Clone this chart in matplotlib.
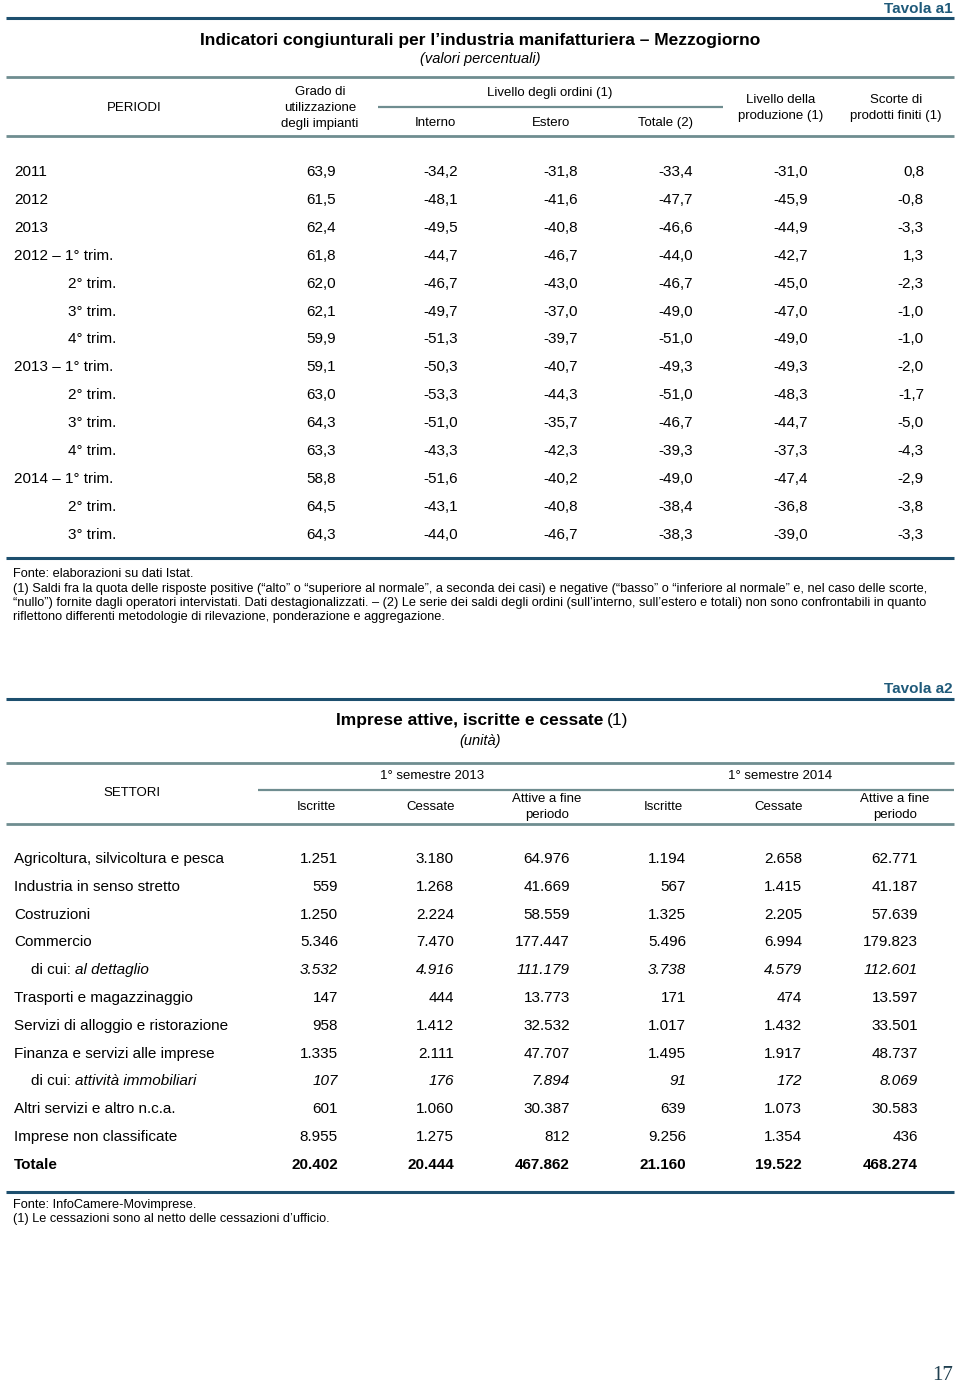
import matplotlib
matplotlib.use("Agg")
import matplotlib.pyplot as plt

plt.rcParams['font.family'] = ['Liberation Sans', 'DejaVu Sans']

# ---- Tavola a1 data ----
periodi = ["2011", "2012", "2013", "2012 \u2013 1\u00b0 trim.", "2\u00b0 trim.", "3\u00b0 trim.", "4\u00b0 trim.",
           "2013 \u2013 1\u00b0 trim.", "2\u00b0 trim.", "3\u00b0 trim.", "4\u00b0 trim.",
           "2014 \u2013 1\u00b0 trim.", "2\u00b0 trim.", "3\u00b0 trim."]
indent_a1 = [False, False, False, False, True, True, True, False, True, True, True, False, True, True]
grado = [63.9, 61.5, 62.4, 61.8, 62.0, 62.1, 59.9, 59.1, 63.0, 64.3, 63.3, 58.8, 64.5, 64.3]
interno = [-34.2, -48.1, -49.5, -44.7, -46.7, -49.7, -51.3, -50.3, -53.3, -51.0, -43.3, -51.6, -43.1, -44.0]
estero = [-31.8, -41.6, -40.8, -46.7, -43.0, -37.0, -39.7, -40.7, -44.3, -35.7, -42.3, -40.2, -40.8, -46.7]
totale = [-33.4, -47.7, -46.6, -44.0, -46.7, -49.0, -51.0, -49.3, -51.0, -46.7, -39.3, -49.0, -38.4, -38.3]
produzione = [-31.0, -45.9, -44.9, -42.7, -45.0, -47.0, -49.0, -49.3, -48.3, -44.7, -37.3, -47.4, -36.8, -39.0]
scorte = [0.8, -0.8, -3.3, 1.3, -2.3, -1.0, -1.0, -2.0, -1.7, -5.0, -4.3, -2.9, -3.8, -3.3]

# ---- Tavola a2 data ----
settori = ["Agricoltura, silvicoltura e pesca", "Industria in senso stretto", "Costruzioni", "Commercio",
           "al dettaglio", "Trasporti e magazzinaggio", "Servizi di alloggio e ristorazione",
           "Finanza e servizi alle imprese", "attivit\u00e0 immobiliari", "Altri servizi e altro n.c.a.",
           "Imprese non classificate", "Totale"]
row_kind = ["n", "n", "n", "n", "sub", "n", "n", "n", "sub", "n", "n", "tot"]
iscritte_13 = [1251, 559, 1250, 5346, 3532, 147, 958, 1335, 107, 601, 8955, 20402]
cessate_13 = [3180, 1268, 2224, 7470, 4916, 444, 1412, 2111, 176, 1060, 1275, 20444]
attive_13 = [64976, 41669, 58559, 177447, 111179, 13773, 32532, 47707, 7894, 30387, 812, 467862]
iscritte_14 = [1194, 567, 1325, 5496, 3738, 171, 1017, 1495, 91, 639, 9256, 21160]
cessate_14 = [2658, 1415, 2205, 6994, 4579, 474, 1432, 1917, 172, 1073, 1354, 19522]
attive_14 = [62771, 41187, 57639, 179823, 112601, 13597, 33501, 48737, 8069, 30583, 436, 468274]

DARK = "#1d4f6e"
GREY = "#6f8d90"
TAV = "#1f5a7a"


def fmt_pct(v):
    return f"{v:.1f}".replace(".", ",")


def fmt_int(v):
    return f"{v:,}".replace(",", ".")


fig = plt.figure(figsize=(9.6, 13.9), dpi=100)
ax = fig.add_axes([0, 0, 1, 1])
ax.set_xlim(0, 960)
ax.set_ylim(1390, 0)
ax.axis("off")


def hline(y, x0=6, x1=954, color=GREY, lw=2.0):
    ax.plot([x0, x1], [y, y], color=color, lw=lw, solid_capstyle="butt")


def txt(x, y, s, size=11, ha="left", **kw):
    return ax.text(x, y, s, fontsize=size, ha=ha, va="center", **kw)


# ================= Tavola a1 =================
txt(953, 9, "Tavola a1", size=11, ha="right", color=TAV, fontweight="bold")
hline(18, color=DARK, lw=2.2)
txt(480, 40, "Indicatori congiunturali per l\u2019industria manifatturiera \u2013 Mezzogiorno",
    size=12.5, ha="center", fontweight="bold")
txt(480, 59, "(valori percentuali)", size=10.5, ha="center", style="italic")
hline(77)

hs = 9.5
txt(134, 108, "PERIODI", size=hs, ha="center")
txt(320, 92, "Grado di", size=hs, ha="center")
txt(320, 108, "utilizzazione", size=hs, ha="center")
txt(320, 124, "degli impianti", size=hs, ha="center")
txt(550, 93, "Livello degli ordini (1)", size=hs, ha="center")
hline(107, 378, 723, lw=1.6)
txt(435, 123, "Interno", size=hs, ha="center")
txt(551, 123, "Estero", size=hs, ha="center")
txt(665, 123, "Totale (2)", size=hs, ha="center")
txt(781, 100, "Livello della", size=hs, ha="center")
txt(781, 116, "produzione (1)", size=hs, ha="center")
txt(896, 100, "Scorte di", size=hs, ha="center")
txt(896, 116, "prodotti finiti (1)", size=hs, ha="center")
hline(136)

cols_a1 = [grado, interno, estero, totale, produzione, scorte]
right_a1 = [336, 458, 578, 693, 808, 924]
for i, lab in enumerate(periodi):
    y = 172 + i * 27.9
    txt(68 if indent_a1[i] else 14, y, lab)
    for series, xr in zip(cols_a1, right_a1):
        txt(xr, y, fmt_pct(series[i]), ha="right")

hline(558, color=DARK, lw=2.2)
fs = 9.2
txt(13, 574, "Fonte: elaborazioni su dati Istat.", size=fs)
txt(13, 589, "(1) Saldi fra la quota delle risposte positive (\u201calto\u201d o \u201csuperiore al normale\u201d, "
    "a seconda dei casi) e negative (\u201cbasso\u201d o \u201cinferiore al normale\u201d e, nel caso delle scorte,",
    size=fs)
txt(13, 603, "\u201cnullo\u201d) fornite dagli operatori intervistati. Dati destagionalizzati. \u2013 (2) Le serie "
    "dei saldi degli ordini (sull\u2019interno, sull\u2019estero e totali) non sono confrontabili in quanto",
    size=fs)
txt(13, 617, "riflettono differenti metodologie di rilevazione, ponderazione e aggregazione.", size=fs)

# ================= Tavola a2 =================
txt(953, 689, "Tavola a2", size=11, ha="right", color=TAV, fontweight="bold")
hline(699, color=DARK, lw=2.2)
txt(603, 721, "Imprese attive, iscritte e cessate", size=12.5, ha="right", fontweight="bold")
txt(607, 721, "(1)", size=12.5)
txt(480, 741, "(unit\u00e0)", size=10.5, ha="center", style="italic")
hline(763)

txt(132, 793, "SETTORI", size=hs, ha="center")
txt(432, 776, "1\u00b0 semestre 2013", size=hs, ha="center")
txt(780, 776, "1\u00b0 semestre 2014", size=hs, ha="center")
hline(790, 258, 954, lw=1.6)
for xc in (316, 663):
    txt(xc, 807, "Iscritte", size=hs, ha="center")
for xc in (431, 779):
    txt(xc, 807, "Cessate", size=hs, ha="center")
for xc in (547, 895):
    txt(xc, 799, "Attive a fine", size=hs, ha="center")
    txt(xc, 815, "periodo", size=hs, ha="center")
hline(824)

renderer = fig.canvas.get_renderer()
cols_a2 = [iscritte_13, cessate_13, attive_13, iscritte_14, cessate_14, attive_14]
right_a2 = [338, 454, 570, 686, 802, 918]
for i, lab in enumerate(settori):
    y = 859 + i * 27.8
    kind = row_kind[i]
    weight = "bold" if kind == "tot" else "normal"
    style = "italic" if kind == "sub" else "normal"
    if kind == "sub":
        t = txt(31, y, "di cui:")
        ext = t.get_window_extent(renderer)
        txt(ext.x1 + 4, y, lab, style="italic")
    else:
        txt(14, y, lab, fontweight=weight)
    for series, xr in zip(cols_a2, right_a2):
        txt(xr, y, fmt_int(series[i]), ha="right", fontweight=weight, style=style)

hline(1192, color=DARK, lw=2.2)
txt(13, 1205, "Fonte: InfoCamere-Movimprese.", size=fs)
txt(13, 1219, "(1) Le cessazioni sono al netto delle cessazioni d\u2019ufficio.", size=fs)

ax.text(943, 1376, "17", fontsize=15, ha="center", va="center", family="Liberation Serif", color="#1f3f4f")

fig.savefig("out.png", dpi=100, facecolor="white")
